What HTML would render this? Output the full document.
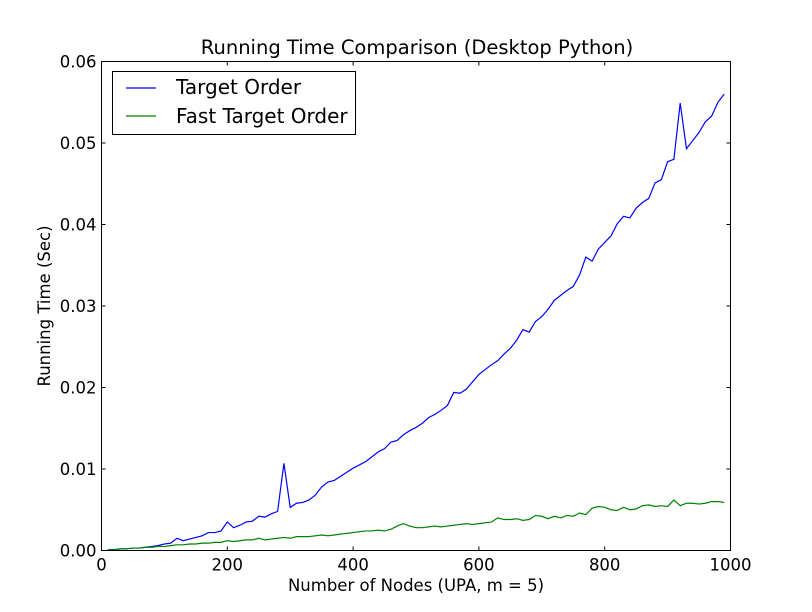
<!DOCTYPE html>
<html><head><meta charset="utf-8"><style>
body{margin:0;background:#fff;}
svg{display:block;font-family:"DejaVu Sans","Liberation Sans",sans-serif;}
</style></head><body>
<svg id="chart" width="812" height="612">
<rect width="812" height="612" fill="#fff"/>
<g id="marks"></g>
<g id="axes"></g>
<text x="417" y="54" font-size="19.5" text-anchor="middle">Running Time Comparison (Desktop Python)</text>
<text x="416" y="591" font-size="16.5" text-anchor="middle">Number of Nodes (UPA, m = 5)</text>
<text x="50" y="306" font-size="16.5" text-anchor="middle" transform="rotate(-90 50 306)">Running Time (Sec)</text>
<g>
<rect x="112.5" y="71.5" width="243" height="63" fill="#fff" stroke="#000" stroke-width="1"/>
<line x1="126" y1="88" x2="156" y2="88" stroke="#0000ff" stroke-width="1.2"/>
<text x="176" y="94" font-size="20">Target Order</text>
<line x1="126" y1="116" x2="156" y2="116" stroke="#008000" stroke-width="1.2"/>
<text x="176" y="123" font-size="20">Fast Target Order</text>
</g>
</svg>
<script>
const nodes = [];
for (let n = 10; n <= 990; n += 10) nodes.push(n);
const targetOrder = [0.0001,0.0001,0.0002,0.0002,0.0003,0.0003,0.0004,0.0005,0.0006,0.0008,0.0009,0.0015,0.0012,0.0014,0.0016,0.0018,0.0022,0.0022,0.0024,0.0035,0.0028,0.0031,0.0035,0.0036,0.0042,0.0041,0.0045,0.0048,0.0107,0.0053,0.0058,0.0059,0.0062,0.0068,0.0078,0.0084,0.0086,0.0091,0.0096,0.0101,0.0105,0.0109,0.0115,0.0121,0.0125,0.0133,0.0135,0.0142,0.0147,0.0151,0.0156,0.0163,0.0167,0.0172,0.0178,0.0194,0.0193,0.0198,0.0207,0.0216,0.0222,0.0228,0.0233,0.0241,0.0248,0.0258,0.0271,0.0268,0.0281,0.0287,0.0296,0.0307,0.0313,0.0319,0.0324,0.0338,0.0360,0.0355,0.0370,0.0378,0.0386,0.0401,0.0410,0.0408,0.0420,0.0427,0.0432,0.0451,0.0455,0.0477,0.0480,0.0549,0.0493,0.0503,0.0513,0.0526,0.0533,0.0550,0.0560];
const fastTargetOrder = [0.0001,0.0001,0.0002,0.0002,0.0003,0.0003,0.0004,0.0004,0.0005,0.0005,0.0006,0.0007,0.0007,0.0008,0.0008,0.0009,0.0009,0.0010,0.0010,0.0012,0.0011,0.0012,0.0013,0.0013,0.0015,0.0013,0.0014,0.0015,0.0016,0.0015,0.0017,0.0017,0.0017,0.0018,0.0019,0.0018,0.0019,0.0020,0.0021,0.0022,0.0023,0.0024,0.0024,0.0025,0.0024,0.0026,0.0030,0.0033,0.0030,0.0028,0.0028,0.0029,0.0030,0.0029,0.0030,0.0031,0.0032,0.0033,0.0032,0.0033,0.0034,0.0035,0.0040,0.0038,0.0038,0.0039,0.0037,0.0038,0.0043,0.0042,0.0039,0.0042,0.0040,0.0043,0.0042,0.0046,0.0044,0.0052,0.0054,0.0053,0.0050,0.0049,0.0053,0.0050,0.0051,0.0055,0.0056,0.0054,0.0055,0.0054,0.0062,0.0055,0.0058,0.0058,0.0057,0.0058,0.0060,0.0060,0.0059];
const xTicks = [0,200,400,600,800,1000];
const yTicks = [0,0.01,0.02,0.03,0.04,0.05,0.06];
const yTickLabels = ["0.00","0.01","0.02","0.03","0.04","0.05","0.06"];

const L=101.5,R=730.5,T=61.5,B=550.5;
const xs = v => L + (v/1000)*(R-L);
const ys = v => B - (v/0.06)*(B-T);
const NS="http://www.w3.org/2000/svg";
const marks=document.getElementById('marks'), axes=document.getElementById('axes');

function series(vals,color,name){
  const p=document.createElementNS(NS,'polyline');
  p.setAttribute('points',vals.map((v,i)=>xs(nodes[i]).toFixed(2)+','+ys(v).toFixed(2)).join(' '));
  p.setAttribute('fill','none');p.setAttribute('stroke',color);p.setAttribute('stroke-width','1.2');
  
  
  marks.appendChild(p);
}
series(targetOrder,'#0000ff','line-target-order');
series(fastTargetOrder,'#008000','line-fast-target-order');

const frame=document.createElementNS(NS,'rect');
frame.setAttribute('x',L);frame.setAttribute('y',T);frame.setAttribute('width',R-L);frame.setAttribute('height',B-T);
frame.setAttribute('fill','none');frame.setAttribute('stroke','#000');frame.setAttribute('stroke-width','1');


axes.appendChild(frame);

function line(x1,y1,x2,y2){const l=document.createElementNS(NS,'line');
 l.setAttribute('x1',x1);l.setAttribute('y1',y1);l.setAttribute('x2',x2);l.setAttribute('y2',y2);
 l.setAttribute('stroke','#000');l.setAttribute('stroke-width','1');
 
 
 axes.appendChild(l);}
function text(x,y,s,anchor,name){const t=document.createElementNS(NS,'text');
 t.setAttribute('x',x);t.setAttribute('y',y);t.setAttribute('font-size','16.5');t.setAttribute('text-anchor',anchor);t.textContent=s;
 
 
 axes.appendChild(t);}
xTicks.forEach(v=>{const x=xs(v);line(x,B,x,B-4);line(x,T,x,T+4);text(x,B+20,String(v),'middle','x-tick-label');});
yTicks.forEach((v,i)=>{const y=ys(v);line(L,y,L+4,y);line(R,y,R-4,y);text(L-5,y+6,yTickLabels[i],'end','y-tick-label');});
</script>
</body></html>
